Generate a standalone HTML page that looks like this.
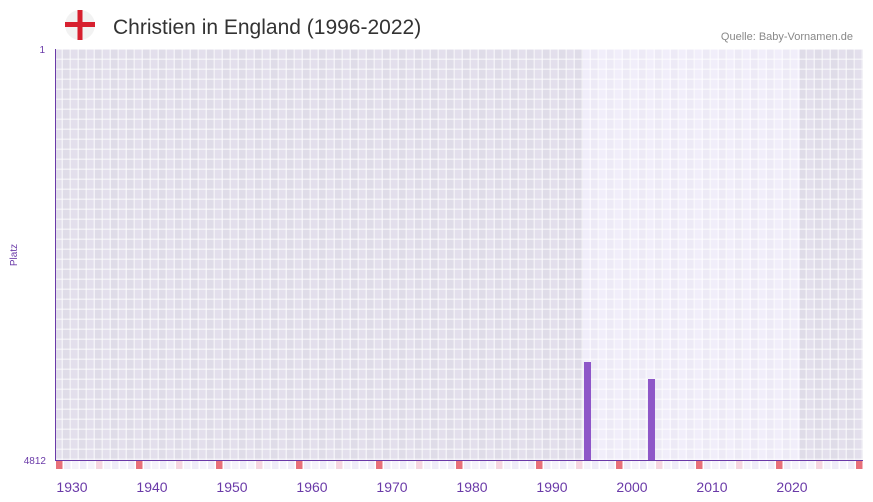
<!DOCTYPE html><html><head><meta charset="utf-8"><style>
body{margin:0;background:#fff;width:873px;height:502px;overflow:hidden;font-family:"Liberation Sans",sans-serif}
</style></head><body>
<svg width="873" height="502" xmlns="http://www.w3.org/2000/svg" style="position:absolute;left:0;top:0">
<defs>
<pattern id="g" x="55" y="50" width="8" height="10" patternUnits="userSpaceOnUse">
<rect x="6.5" y="0" width="1.5" height="10" fill="#fff" opacity="0.55"/>
<rect x="0" y="8.5" width="8" height="1.5" fill="#fff" opacity="0.55"/>
</pattern>
<pattern id="alt" x="55" y="0" width="16" height="10" patternUnits="userSpaceOnUse">
<rect x="8" y="0" width="8" height="10" fill="#000" opacity="0.015"/>
</pattern>
</defs>
<circle cx="80" cy="25" r="15" fill="#f2f2f2"/>
<rect x="65" y="22" width="30" height="5" fill="#d7202f"/>
<rect x="77.5" y="10" width="5" height="30" fill="#d7202f"/>
<text x="113" y="34" font-size="21" fill="#333">Christien in England (1996-2022)</text>
<text x="853" y="40" font-size="11" fill="#888" text-anchor="end">Quelle: Baby-Vornamen.de</text>
<rect x="55" y="49" width="528" height="411" fill="#e3dfec"/>
<rect x="583" y="49" width="217" height="411" fill="#f1eefa"/>
<rect x="800" y="49" width="63" height="411" fill="#e3dfec"/>
<rect x="55" y="49" width="808" height="411" fill="url(#alt)"/>
<rect x="55" y="49" width="808" height="411" fill="url(#g)"/>
<rect x="584" y="362" width="7" height="98" fill="#8e57c8"/>
<rect x="648" y="379" width="7" height="81" fill="#8e57c8"/>
<line x1="55.5" y1="49" x2="55.5" y2="461" stroke="#6a3aa8" stroke-width="1"/>
<line x1="55" y1="460.5" x2="863" y2="460.5" stroke="#6a3aa8" stroke-width="1"/>
<g id="m"></g>
<text x="45" y="53" font-size="10" fill="#6a3aa8" text-anchor="end">1</text>
<text x="46" y="464" font-size="10" fill="#6a3aa8" text-anchor="end">4812</text>
<text x="17" y="255" font-size="10" fill="#6a3aa8" text-anchor="middle" transform="rotate(-90 17 255)">Platz</text>
<g font-size="14" fill="#6a3aa8" text-anchor="middle">
<text x="72" y="492">1930</text><text x="152" y="492">1940</text><text x="232" y="492">1950</text><text x="312" y="492">1960</text><text x="392" y="492">1970</text><text x="472" y="492">1980</text><text x="552" y="492">1990</text><text x="632" y="492">2000</text><text x="712" y="492">2010</text><text x="792" y="492">2020</text>
</g>
</svg>
<script>
var g=document.getElementById('m'),s='';
for(var i=0;i<101;i++){var y=1930+i,x=55+i*8,c;
if(y%10==0)c='#e8707a';else if(y%5==0)c='#f6d6e0';else c=(i%2?'#efecf8':'#f5f3fb');
s+='<rect x="'+(x+1)+'" y="461" width="6.5" height="8" fill="'+c+'"/>';}
g.innerHTML=s;
</script>
</body></html>
